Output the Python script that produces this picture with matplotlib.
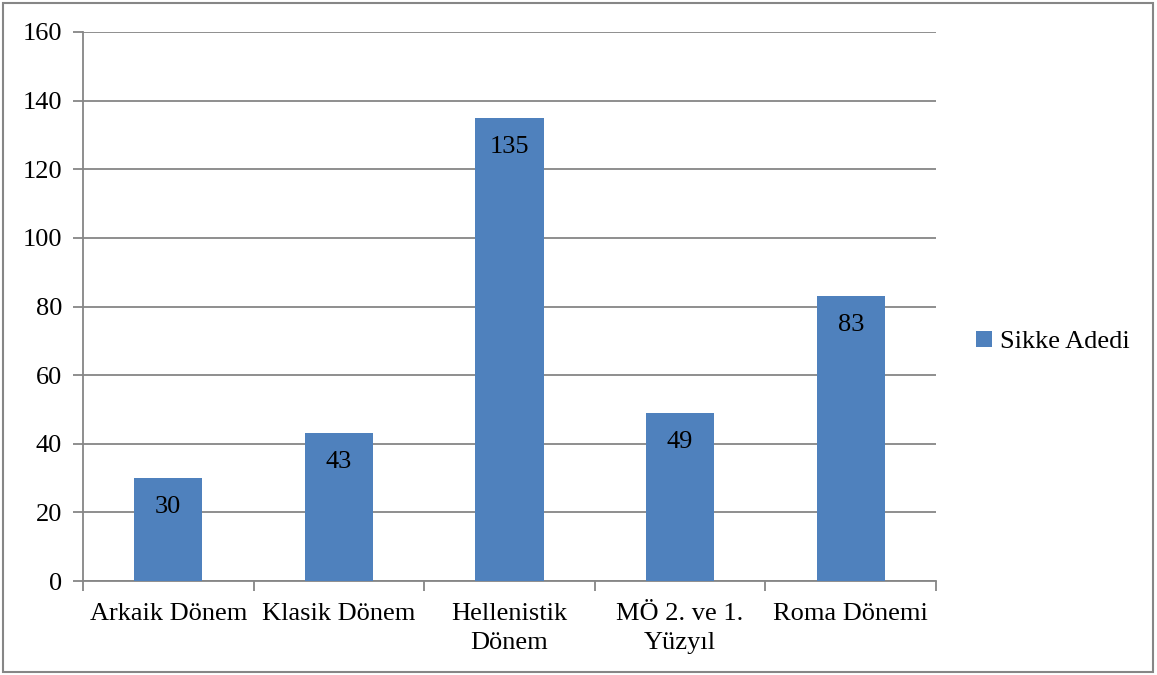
import matplotlib.pyplot as plt
from matplotlib.patches import Rectangle

categories = ["Arkaik Dönem", "Klasik Dönem", "Hellenistik\nDönem", "MÖ 2. ve 1.\nYüzyıl", "Roma Dönemi"]
values = [30, 43, 135, 49, 83]
series_name = "Sikke Adedi"
y_ticks = [0, 20, 40, 60, 80, 100, 120, 140, 160]

bar_color = "#4F81BD"
grid_color = "#868686"
font = "Liberation Serif"
fs = 19

plt.rcParams["font.family"] = [font, "DejaVu Serif"]

fig = plt.figure(figsize=(11.57, 6.75), dpi=100)
ax = fig.add_axes([83 / 1157, 1 - 581 / 675, (936 - 83) / 1157, (581 - 32) / 675])

x = list(range(len(categories)))
bars = ax.bar(x, values, width=0.4, color=bar_color, label=series_name, zorder=3)

for xi, v in zip(x, values):
    ax.annotate(str(v), (xi, v), xytext=(0, -29), textcoords="offset pixels",
                ha="center", va="center", fontsize=fs, color="black", zorder=4)

ax.set_xlim(-0.5, len(categories) - 0.5)
ax.set_ylim(0, 160)
ax.set_yticks(y_ticks)
ax.set_yticklabels([str(t) for t in y_ticks], fontsize=fs)
ax.yaxis.grid(True, color=grid_color, linewidth=1.3, zorder=0)
ax.set_axisbelow(True)

# category labels centred between the boundary ticks
ax.set_xticks(x)
ax.set_xticklabels(categories, fontsize=fs, linespacing=1.4)
ax.tick_params(axis="x", length=0, pad=16)
ax.set_xticks([i - 0.5 for i in range(len(categories) + 1)], minor=True)
ax.tick_params(axis="x", which="minor", length=7, width=1.3, color=grid_color)
ax.tick_params(axis="y", length=7, width=1.3, color=grid_color, pad=8)

for side in ("top", "right"):
    ax.spines[side].set_visible(False)
for side in ("left", "bottom"):
    ax.spines[side].set_color(grid_color)
    ax.spines[side].set_linewidth(1.3)

leg = fig.legend(handles=[bars], labels=[series_name], loc="center left",
                 bbox_to_anchor=(952 / 1157, 1 - 342 / 675), frameon=False,
                 fontsize=fs, handlelength=0.6, handleheight=0.6, handletextpad=0.3)

fig.patches.append(Rectangle((3 / 1157, 3 / 675), 1150 / 1157, 669 / 675,
                             transform=fig.transFigure, fill=False,
                             edgecolor=grid_color, linewidth=1.5))

fig.savefig("out.png", dpi=100)
